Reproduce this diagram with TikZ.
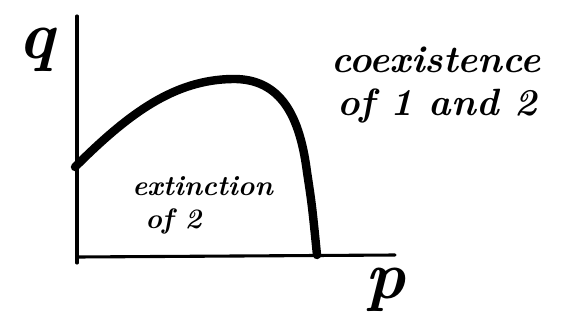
\documentclass[tikz,border=0pt]{standalone}
\usepackage{tikz}
\tikzset{axis/.style={line width=2.2pt, line cap=round},
         border/.style={line width=6pt, line cap=round, line join=round},
         hand/.style={font=\fontsize{27}{30}\selectfont\itshape\bfseries, inner sep=0pt},
         small/.style={font=\fontsize{20}{24}\selectfont\itshape\bfseries, inner sep=0pt, anchor=west},
         letter/.style={font=\fontsize{48}{52}\selectfont\itshape\bfseries, inner sep=0pt}}

\begin{document}
\begin{tikzpicture}[x=0.025cm, y=-0.025cm]
            \useasboundingbox (0,0) rectangle (564,323);
            \coordinate (O) at (77,257);
            \coordinate (Ytop) at (77,16);
            \coordinate (Ybot) at (77,263);
            \coordinate (Xend) at (395,255);
            \coordinate (S) at (75,167);
            \coordinate (T) at (232,79);
            \coordinate (K) at (307,172);
            \coordinate (E) at (317,255);

            \node[letter] (q) at (36,50) {q};
            \node[letter] (p) at (385,290) {p};
            \node[hand] (coex) at (436,60) {coexistence};
            \node[hand] (both) at (437,106) {of 1 and 2};
            \node[small] (ext) at (132,186) {extinction};
            \node[small] (two) at (145,221) {of 2};

            \draw[axis] (Ytop) -- (Ybot);
            \draw[axis] (O) -- (Xend);
            \draw[border] (S) .. controls (130,112) and (175,80) .. (T)
                .. controls (282,78) and (300,118) .. (K)
                .. controls (312,205) .. (E);
        \end{tikzpicture}
\end{document}
